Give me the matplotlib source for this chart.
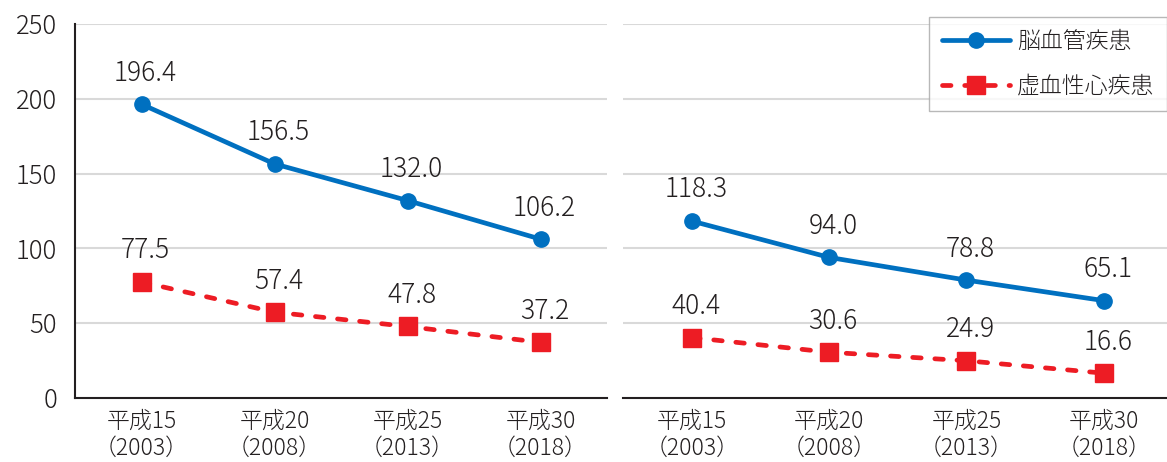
import numpy as np
import matplotlib
matplotlib.use("Agg")
import matplotlib.pyplot as plt

plt.rcParams['font.family'] = ['Noto Sans CJK JP', 'DejaVu Sans']
plt.rcParams['font.weight'] = 'light'

# data
years = ['平成15\n（2003）', '平成20\n（2008）', '平成25\n（2013）', '平成30\n（2018）']
series_names = ['脳血管疾患', '虚血性心疾患']
left_stroke = [196.4, 156.5, 132.0, 106.2]
left_heart = [77.5, 57.4, 47.8, 37.2]
right_stroke = [118.3, 94.0, 78.8, 65.1]
right_heart = [40.4, 30.6, 24.9, 16.6]
yticks = [0, 50, 100, 150, 200, 250]

blue = '#0070c0'
red = '#ed1c24'
txt = '#231f20'
grid = '#d9d9d9'

W, H = 1167, 462
fig = plt.figure(figsize=(W/100, H/100), dpi=100)
ax1 = fig.add_axes([75/W, 64/H, (607-75)/W, (398-24)/H])
ax2 = fig.add_axes([623/W, 64/H, (1167-623)/W, (398-24)/H])

x = np.arange(len(years))

def draw(ax, stroke, heart, xmax):
    l1, = ax.plot(x, stroke, '-', color=blue, lw=3.4, marker='o', ms=11,
                  solid_capstyle='round', label=series_names[0], zorder=3)
    l2, = ax.plot(x, heart, color=red, lw=3.4, marker='s', ms=12.5,
                  linestyle=(0, (1.8, 2.9)), dash_capstyle='round',
                  label=series_names[1], zorder=3)
    for xi, v in zip(x, stroke):
        ax.annotate('{0:.1f}'.format(v), (xi, v), xytext=(3, 17), textcoords='offset points',
                    ha='center', va='baseline', fontsize=19, color=txt)
    for xi, v in zip(x, heart):
        ax.annotate('{0:.1f}'.format(v), (xi, v), xytext=(3, 17), textcoords='offset points',
                    ha='center', va='baseline', fontsize=19, color=txt)
    ax.set_ylim(0, 250)
    ax.set_xlim(-0.5, xmax)
    ax.set_yticks(yticks)
    ax.set_xticks(x)
    ax.set_xticklabels(years, fontsize=16.5, color=txt, linespacing=1.1)
    for y in yticks[1:]:
        ax.axhline(y, color=grid, lw=1.5, zorder=1)
    for s in ['top', 'right']:
        ax.spines[s].set_visible(False)
    ax.spines['bottom'].set_color('#231f20')
    ax.spines['bottom'].set_linewidth(1.5)
    ax.spines['left'].set_color('#231f20')
    ax.spines['left'].set_linewidth(1.5)
    ax.tick_params(axis='x', length=0, pad=8)
    ax.tick_params(axis='y', length=0, pad=13, labelsize=18.5, labelcolor=txt)
    return l1, l2

draw(ax1, left_stroke, left_heart, 3.5)
l1, l2 = draw(ax2, right_stroke, right_heart, 3.46)
ax2.spines['left'].set_visible(False)
ax2.set_yticklabels([])

leg = ax2.legend(handles=[l1, l2], loc='upper right', bbox_to_anchor=(1.0, 1.02),
                 fontsize=16.5, frameon=True, fancybox=False, handlelength=3.0,
                 borderpad=0.55, labelspacing=0.85, handletextpad=0.3, borderaxespad=0)
leg.get_frame().set_edgecolor('#a6a6a6')
leg.get_frame().set_linewidth(1.0)
for t in leg.get_texts():
    t.set_color(txt)

fig.savefig('out.png', dpi=100)
